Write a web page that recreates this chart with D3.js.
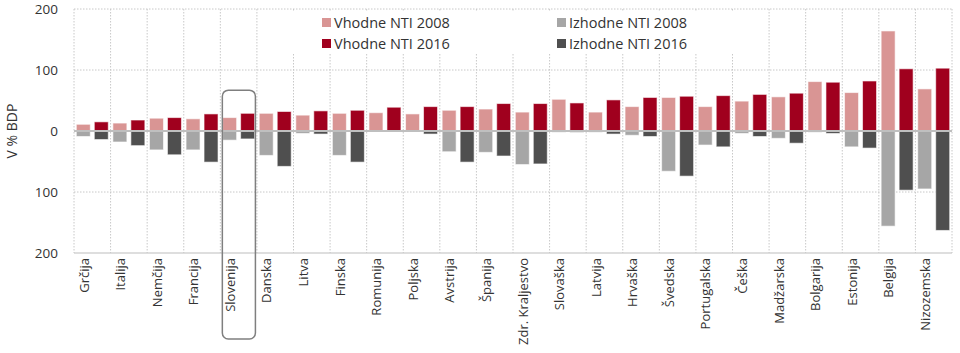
<!DOCTYPE html>
<html>
<head>
<meta charset="utf-8">
<script src="https://cdn.jsdelivr.net/npm/d3@7"></script>
<style>
  html, body { margin: 0; padding: 0; background: #fff; }
  svg { display: block; font-family: "Open Sans", sans-serif; }
</style>
</head>
<body>
<div id="chart"></div>
<script>
// Data (% BDP)
const countries = ['Grčija', 'Italija', 'Nemčija', 'Francija', 'Slovenija', 'Danska', 'Litva', 'Finska',
  'Romunija', 'Poljska', 'Avstrija', 'Španija', 'Zdr. Kraljestvo', 'Slovaška', 'Latvija', 'Hrvaška',
  'Švedska', 'Portugalska', 'Češka', 'Madžarska', 'Bolgarija', 'Estonija', 'Belgija', 'Nizozemska'];

const vhodne2008 = [11, 13, 21, 20, 22, 29, 26, 29, 30, 28, 34, 36, 31, 52, 31, 40, 55, 40, 49, 56, 81, 63, 164, 69];
const vhodne2016 = [15, 18, 22, 28, 29, 32, 33, 34, 39, 40, 40, 45, 45, 46, 51, 55, 57, 58, 60, 62, 80, 82, 102, 103];
const izhodne2008 = [9, 18, 31, 31, 15, 40, 4, 40, 1, 1, 34, 35, 55, 2, 2, 7, 66, 23, 4, 12, 2, 26, 156, 95];
const izhodne2016 = [14, 24, 39, 51, 13, 58, 5, 51, 0, 5, 51, 41, 54, 2, 5, 9, 74, 26, 9, 20, 4, 28, 97, 163];

const yTicks = [-200, -100, 0, 100, 200];
const legendItems = [
  { label: 'Vhodne NTI 2008', color: '#d99594' },
  { label: 'Vhodne NTI 2016', color: '#a0001e' },
  { label: 'Izhodne NTI 2008', color: '#a6a6a6' },
  { label: 'Izhodne NTI 2016', color: '#4f4f4f' }
];
const highlighted = 'Slovenija';

// Setup
const width = 960, height = 353;
const margin = { left: 74, right: 8, top: 9, bottom: 100 };

const svg = d3.select('#chart').append('svg')
  .attr('width', width)
  .attr('height', height)
  .attr('viewBox', [0, 0, width, height]);

const x = d3.scaleBand().domain(countries).range([margin.left, width - margin.right]);
const xi = d3.scaleBand().domain(['2008', '2016']).range([0, x.bandwidth()])
  .paddingInner(0.222).paddingOuter(0.128);
const y = d3.scaleLinear().domain([-200, 200]).range([height - margin.bottom, margin.top]);

const grid = svg.append('g').attr('id', 'grid');
const legendG = svg.append('g').attr('id', 'legend');
const bars = svg.append('g').attr('id', 'bars');
const overlay = svg.append('g').attr('id', 'overlay');

// Gridlines
grid.selectAll('line.h')
  .data(yTicks.filter(d => d !== 0))
  .join('line')
  .attr('class', 'h')
  .attr('x1', margin.left).attr('x2', width - margin.right)
  .attr('y1', d => y(d)).attr('y2', d => y(d))
  .attr('stroke', d => d === -200 ? '#bdbdbd' : '#c8c8c8')
  .attr('stroke-width', 1)
  .attr('stroke-dasharray', d => d === -200 ? null : '1.5,1.5');

grid.selectAll('line.v')
  .data(countries.map(c => x(c)).concat([width - margin.right]))
  .join('line')
  .attr('class', 'v')
  .attr('x1', d => d).attr('x2', d => d)
  .attr('y1', y(200)).attr('y2', y(-200))
  .attr('stroke', '#c8c8c8')
  .attr('stroke-width', 1)
  .attr('stroke-dasharray', '1.5,1.5');

// Y axis
const yAxis = svg.append('g')
  .attr('transform', `translate(${margin.left - 16},0)`)
  .call(d3.axisLeft(y).tickValues(yTicks).tickFormat(d => Math.abs(d)).tickSize(0).tickPadding(0));
yAxis.select('.domain').remove();
yAxis.selectAll('text')
  .attr('font-family', '"Open Sans", sans-serif')
  .attr('font-size', 13.5)
  .attr('fill', '#333');

svg.append('text')
  .attr('transform', `translate(17,${y(0)}) rotate(-90)`)
  .attr('text-anchor', 'middle')
  .attr('font-size', 14)
  .attr('fill', '#333')
  .text('V % BDP');

// Legend (white box covers the grid)
legendG.append('rect')
  .attr('x', 262).attr('y', y(200) + 2)
  .attr('width', 485).attr('height', 42)
  .attr('fill', '#fff');

const legendPos = [[322, 22.5], [322, 43.5], [557, 22.5], [557, 43.5]];
legendItems.forEach((d, i) => {
  const [lx, ly] = legendPos[i];
  legendG.append('rect')
    .attr('x', lx).attr('y', ly - 4.5)
    .attr('width', 9).attr('height', 9)
    .attr('fill', d.color);
  legendG.append('text')
    .attr('x', lx + 12).attr('y', ly)
    .attr('dy', '0.35em')
    .attr('font-size', 14.5)
    .attr('fill', '#333')
    .text(d.label);
});

// Bars
const series = [
  { values: vhodne2008, year: '2008', color: legendItems[0].color, sign: 1 },
  { values: vhodne2016, year: '2016', color: legendItems[1].color, sign: 1 },
  { values: izhodne2008, year: '2008', color: legendItems[2].color, sign: -1 },
  { values: izhodne2016, year: '2016', color: legendItems[3].color, sign: -1 }
];

series.forEach(s => {
  bars.append('g')
    .selectAll('rect')
    .data(countries.map((c, i) => ({ country: c, value: s.values[i] * s.sign })))
    .join('rect')
    .attr('x', d => x(d.country) + xi(s.year))
    .attr('width', xi.bandwidth())
    .attr('y', d => Math.min(y(d.value), y(0)))
    .attr('height', d => Math.abs(y(d.value) - y(0)))
    .attr('fill', s.color)
    .attr('stroke', '#fff')
    .attr('stroke-opacity', 0.6)
    .attr('stroke-width', 1);
});

// Zero line
overlay.append('line')
  .attr('x1', margin.left).attr('x2', width - margin.right)
  .attr('y1', y(0)).attr('y2', y(0))
  .attr('stroke', '#bfbfbf')
  .attr('stroke-width', 2);

// Highlight box around Slovenija
overlay.append('rect')
  .attr('x', x(highlighted) + 2)
  .attr('y', y(67))
  .attr('width', x.bandwidth() - 3.5)
  .attr('height', 339 - y(67))
  .attr('rx', 6)
  .attr('fill', 'none')
  .attr('stroke', '#7f7f7f')
  .attr('stroke-width', 1.5);

// Country labels
svg.append('g')
  .selectAll('text')
  .data(countries)
  .join('text')
  .attr('transform', d => `translate(${x(d) + 10},${y(-200) + 5}) rotate(-90)`)
  .attr('text-anchor', 'end')
  .attr('dy', '0.35em')
  .attr('font-size', 13)
  .attr('fill', '#333')
  .text(d => d);
</script>
</body>
</html>
